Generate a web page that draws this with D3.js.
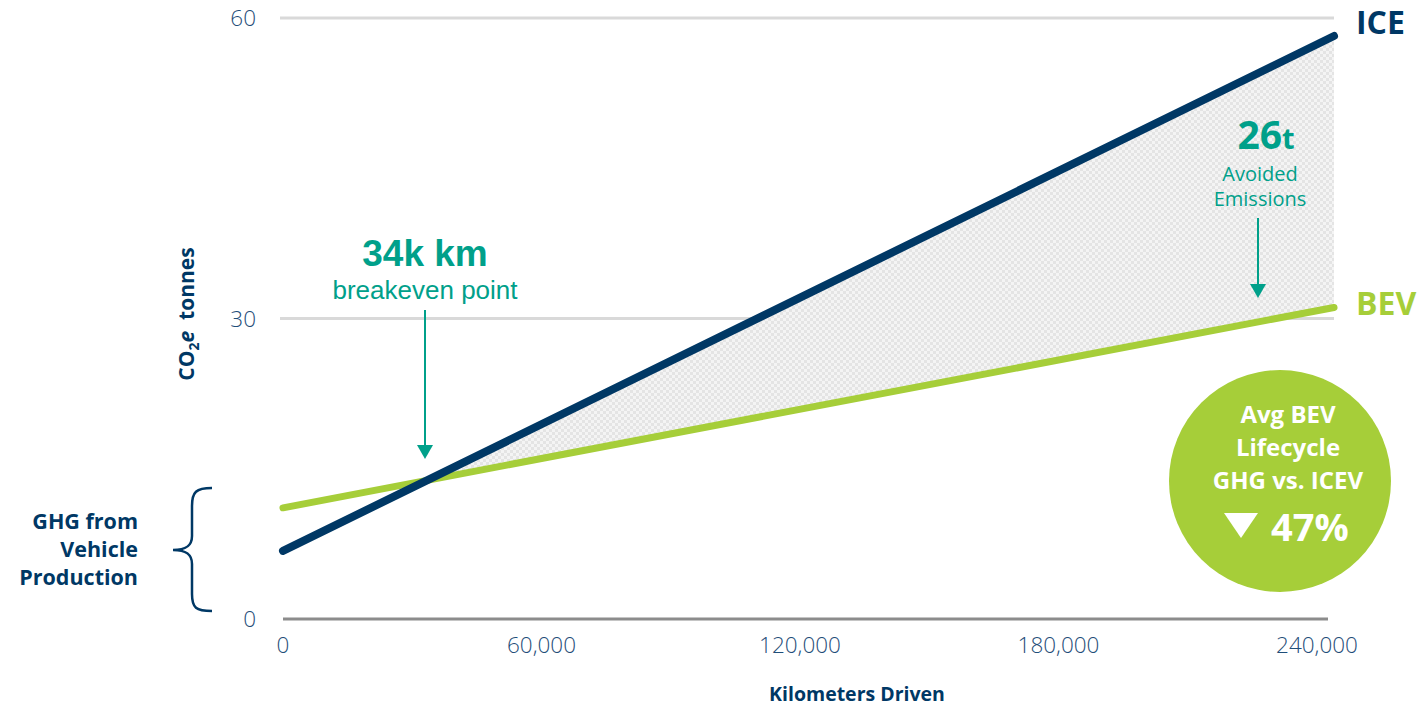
<!DOCTYPE html>
<html>
<head>
<meta charset="utf-8">
<script src="https://cdn.jsdelivr.net/npm/d3@7"></script>
<style>
  body { margin: 0; background: #fff; }
  svg text { font-family: "Open Sans", sans-serif; }
</style>
</head>
<body>
<svg id="chart"></svg>
<script>
const width = 1421, height = 708;

// data
const km = [0, 240000];
const ice = [6.8, 58.2];
const bev = [11.1, 31.1];
const xTicks = [0, 60000, 120000, 180000, 240000];
const yTicks = [0, 30, 60];
const breakevenLabel = "34k km";
const avoidedValue = "26";
const reductionLabel = "47%";

const navy = "#003865", green = "#a6ce39", teal = "#00a08a", tickColor = "#1f4e79";

const svg = d3.select("#chart").attr("width", width).attr("height", height);

const x = d3.scaleLinear().domain([0, 240000]).range([283, 1334]);
const y = d3.scaleLinear().domain([0, 60]).range([619, 18]);
// tick labels in the original sit a little inside the plot's right edge
const xLab = d3.scaleLinear().domain([0, 240000]).range([283, 1317]);

// checkered fill for the avoided emissions area
const defs = svg.append("defs");
const pat = defs.append("pattern").attr("id", "checks")
  .attr("width", 6).attr("height", 6).attr("patternUnits", "userSpaceOnUse");
pat.append("rect").attr("width", 6).attr("height", 6).attr("fill", "#f4f4f4");
pat.append("rect").attr("width", 3).attr("height", 3).attr("fill", "#e4e4e4");
pat.append("rect").attr("x", 3).attr("y", 3).attr("width", 3).attr("height", 3).attr("fill", "#e4e4e4");

// gridlines
svg.selectAll(".grid")
  .data(yTicks.filter(d => d > 0))
  .enter().append("line")
  .attr("x1", 280).attr("x2", 1334)
  .attr("y1", d => y(d)).attr("y2", d => y(d))
  .attr("stroke", "#d9d9d9").attr("stroke-width", 3);

// area between the lines, from the crossover onwards
const iceSlope = (ice[1] - ice[0]) / (km[1] - km[0]);
const bevSlope = (bev[1] - bev[0]) / (km[1] - km[0]);
const crossKm = (bev[0] - ice[0]) / (iceSlope - bevSlope);
const areaData = [
  { k: crossKm, top: ice[0] + iceSlope * crossKm, bot: bev[0] + bevSlope * crossKm },
  { k: km[1], top: ice[1], bot: bev[1] }
];
svg.append("path")
  .datum(areaData)
  .attr("fill", "url(#checks)")
  .attr("d", d3.area().x(d => x(d.k)).y0(d => y(d.bot)).y1(d => y(d.top)));

// baseline
svg.append("line")
  .attr("x1", 283).attr("x2", 1328)
  .attr("y1", y(0)).attr("y2", y(0))
  .attr("stroke", "#8c8c8c").attr("stroke-width", 3);

// y tick labels
svg.selectAll(".ytick")
  .data(yTicks)
  .enter().append("text")
  .attr("x", 256).attr("y", d => y(d) + 8)
  .attr("text-anchor", "end")
  .attr("fill", tickColor).attr("font-size", 22.5).attr("font-weight", 300)
  .text(d => d);

// x tick labels
svg.selectAll(".xtick")
  .data(xTicks)
  .enter().append("text")
  .attr("x", d => xLab(d)).attr("y", 653)
  .attr("text-anchor", "middle")
  .attr("fill", tickColor).attr("font-size", 22.5).attr("font-weight", 300)
  .text(d => d3.format(",")(d));

// axis titles
svg.append("text")
  .attr("x", 857).attr("y", 701)
  .attr("text-anchor", "middle")
  .attr("fill", navy).attr("font-size", 19.5).attr("font-weight", "bold")
  .text("Kilometers Driven");

const yt = svg.append("text")
  .attr("transform", "translate(194,314) rotate(-90)")
  .attr("text-anchor", "middle")
  .attr("fill", navy).attr("font-size", 21).attr("font-weight", "bold");
yt.append("tspan").text("CO");
yt.append("tspan").attr("font-size", 14).attr("dy", 5).text("2");
yt.append("tspan").attr("font-style", "italic").attr("dy", -5).text("e");
yt.append("tspan").text("\u00a0\u00a0tonnes");

// lines
const line = d3.line().x(d => x(d[0])).y(d => y(d[1]));
svg.append("path")
  .datum(km.map((k, i) => [k, bev[i]]))
  .attr("d", line).attr("fill", "none")
  .attr("stroke", green).attr("stroke-width", 7).attr("stroke-linecap", "round");
svg.append("path")
  .datum(km.map((k, i) => [k, ice[i]]))
  .attr("d", line).attr("fill", "none")
  .attr("stroke", navy).attr("stroke-width", 8).attr("stroke-linecap", "round");

// series labels
svg.append("text")
  .attr("x", 1356).attr("y", y(ice[1]) - 2)
  .attr("fill", navy).attr("font-size", 32).attr("font-weight", "bold")
  .text("ICE");
svg.append("text")
  .attr("x", 1356).attr("y", y(bev[1]) + 8)
  .attr("fill", green).attr("font-size", 32).attr("font-weight", "bold")
  .text("BEV");

// production brace
svg.append("path")
  .attr("d", "M212,488 C196,488 192,492 192,506 L192,536 C192,546 186,550 173,550 C186,550 192,554 192,564 L192,594 C192,608 196,611 212,611")
  .attr("fill", "none").attr("stroke", navy).attr("stroke-width", 2.5);

svg.selectAll(".ghg")
  .data(["GHG from", "Vehicle", "Production"])
  .enter().append("text")
  .attr("x", 138).attr("y", (d, i) => 529 + i * 28)
  .attr("text-anchor", "end")
  .attr("fill", navy).attr("font-size", 21.5).attr("font-weight", "bold")
  .text(d => d);

// arrow helper
function arrow(xp, y1, y2) {
  svg.append("line")
    .attr("x1", xp).attr("x2", xp).attr("y1", y1).attr("y2", y2 - 10)
    .attr("stroke", teal).attr("stroke-width", 2);
  svg.append("path")
    .attr("d", `M${xp - 8},${y2 - 14} L${xp + 8},${y2 - 14} L${xp},${y2} Z`)
    .attr("fill", teal);
}

// breakeven annotation
svg.append("text")
  .attr("x", 425).attr("y", 266)
  .attr("text-anchor", "middle")
  .attr("fill", teal).attr("font-size", 37).attr("font-weight", "bold")
  .style("font-family", "'Liberation Sans', Arial, sans-serif")
  .text(breakevenLabel);
svg.append("text")
  .attr("x", 425).attr("y", 299)
  .attr("text-anchor", "middle")
  .attr("fill", teal).attr("font-size", 26)
  .style("font-family", "'Liberation Sans', Arial, sans-serif")
  .text("breakeven point");
arrow(425, 310, 459);

// avoided emissions annotation
const t26 = svg.append("text")
  .attr("x", 1266).attr("y", 149)
  .attr("text-anchor", "middle")
  .attr("fill", teal).attr("font-weight", "bold");
t26.append("tspan").attr("font-size", 39).text(avoidedValue);
t26.append("tspan").attr("font-size", 29).text("t");
svg.selectAll(".avoid")
  .data(["Avoided", "Emissions"])
  .enter().append("text")
  .attr("x", 1260).attr("y", (d, i) => 181 + i * 25)
  .attr("text-anchor", "middle")
  .attr("fill", teal).attr("font-size", 20)
  .text(d => d);
arrow(1258, 218, 298);

// summary bubble
svg.append("circle")
  .attr("cx", 1280).attr("cy", 481).attr("r", 111)
  .attr("fill", green);
svg.selectAll(".bub")
  .data(["Avg BEV", "Lifecycle", "GHG vs. ICEV"])
  .enter().append("text")
  .attr("x", 1288).attr("y", (d, i) => 423 + i * 33)
  .attr("text-anchor", "middle")
  .attr("fill", "#fff").attr("font-size", 24).attr("font-weight", "bold")
  .text(d => d);
svg.append("path")
  .attr("d", "M1224,513 L1258,513 L1241,538 Z")
  .attr("fill", "#fff");
svg.append("text")
  .attr("x", 1271).attr("y", 541)
  .attr("fill", "#fff").attr("font-size", 38).attr("font-weight", "bold")
  .text(reductionLabel);
</script>
</body>
</html>
